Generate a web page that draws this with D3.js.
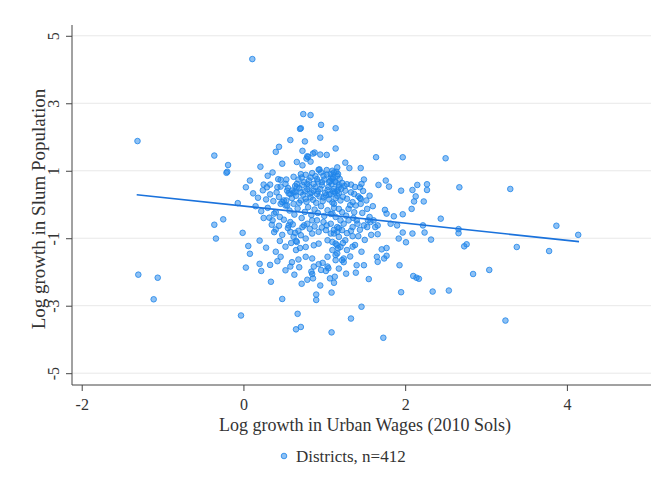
<!DOCTYPE html>
<html>
<head>
<meta charset="utf-8">
<script src="https://cdn.jsdelivr.net/npm/d3@7/dist/d3.min.js"></script>
<style>
  html, body { margin: 0; padding: 0; background: #fff; }
  svg { display: block; }
  text { font-family: "Liberation Serif", "DejaVu Serif", serif; fill: #333; }
</style>
</head>
<body>
<svg id="chart" width="651" height="485"></svg>
<script>
// log growth in urban wages (x) and slum population (y), one entry per district
const wageGrowth = [
  0.11,-1.31,-0.36,-0.19,-0.21,-0.20,0.21,0.40,0.44,0.58,0.70,0.48,0.36,0.30,0.08,0.03,0.25,0.33,0.46,0.53,
  0.66,0.42,0.29,0.74,0.83,0.96,1.14,0.71,0.76,0.95,1.14,0.73,0.88,0.95,1.03,0.79,0.78,0.83,0.73,1.26,
  1.31,1.45,1.64,1.97,2.50,0.94,1.03,1.49,1.46,1.44,1.28,1.33,1.67,1.76,1.80,2.15,2.27,2.27,2.09,1.95,
  2.67,3.30,3.87,4.14,2.66,2.73,2.76,3.38,3.78,2.84,3.04,2.44,3.24,2.54,2.34,1.95,2.10,2.14,2.17,1.93,
  1.66,1.55,1.39,1.40,1.49,1.24,1.46,1.33,1.09,1.73,0.67,0.65,0.71,0.48,0.90,0.90,1.09,-0.03,0.34,-1.11,
  -1.30,-1.06,0.03,0.20,0.22,0.60,0.69,0.93,0.98,1.04,1.05,1.02,0.96,0.84,0.85,0.86,0.79,1.07,1.13,1.12,
  -0.36,-0.25,-0.07,-0.34,-0.01,0.06,0.08,0.46,0.68,0.65,0.70,0.45,0.20,0.64,0.65,0.59,0.40,0.38,0.56,0.61,
  0.25,0.32,0.36,0.38,0.45,0.50,0.48,0.52,0.53,2.13,2.11,2.23,2.08,2.66,2.32,2.24,2.09,2.01,1.97,1.92,
  2.22,1.97,1.86,1.82,1.90,1.75,1.77,1.66,1.56,1.53,1.42,1.45,1.56,1.54,1.57,1.66,1.63,1.40,1.41,1.30,
  1.35,1.42,1.35,1.23,1.17,1.14,1.32,1.65,1.71,1.77,1.77,1.74,
  0.80,0.86,0.93,1.10,1.16,0.99,1.08,1.17,0.91,0.83,0.71,0.75,0.66,0.79,0.87,0.97,1.06,1.14,0.60,0.56,
  0.64,0.71,0.79,0.87,0.95,1.04,1.12,0.50,0.46,0.54,0.62,0.71,0.77,0.83,0.91,0.99,1.08,1.16,0.40,0.58,
  0.73,0.79,0.85,0.91,0.99,1.08,1.16,0.58,0.62,0.71,0.77,0.85,0.93,1.02,1.08,1.16,0.66,0.77,0.87,0.93,
  1.04,1.10,1.16,0.77,0.85,1.04,1.14,0.33,0.58,0.87,0.43,0.52,0.46,0.55,0.54,0.58,0.62,0.66,
  1.08,1.12,1.16,1.10,1.13,1.18,1.11,1.06,1.16,1.20,1.12,1.18,1.22,1.10,1.14,1.20,1.24,1.18,1.22,1.12,
  1.18,1.26,1.14,1.20,1.10,1.16,1.24,1.26,1.33,1.37,1.28,1.35,1.39,1.30,1.37,1.44,1.45,1.49,1.53,1.61,1.22,
  0.62,0.68,0.72,0.77,0.81,0.85,0.89,0.92,0.96,1.00,1.03,1.07,1.11,1.15,1.19,1.22,
  0.64,0.69,0.73,0.76,0.81,0.84,0.89,0.92,0.97,1.01,1.05,1.09,1.13,1.18,1.21,1.25,
  0.60,0.65,0.69,0.74,0.78,0.82,0.86,0.90,0.94,0.98,1.02,1.06,1.10,1.14,1.18,1.23,
  0.57,0.63,0.67,0.72,0.76,0.80,0.84,0.88,0.92,0.96,1.00,1.04,1.08,1.12,1.27,1.32,
  0.55,0.68,0.75,0.82,0.88,0.97,1.03,1.12,1.28,1.33,
  0.12,0.18,0.24,0.28,0.33,0.37,0.41,0.44,0.15,0.22,0.30,0.35,0.44,0.48,0.52,0.28,0.40,
  1.38,1.48,1.52,1.60,1.47,1.36,1.44,1.50,1.58,1.38,1.46,1.28,
  0.52,0.63,0.72,0.95,1.18,1.27,0.42,1.35
];
const slumGrowth = [
  4.31,1.88,1.45,1.17,0.94,0.97,1.12,1.56,1.71,1.91,2.24,1.21,0.95,0.85,0.71,0.51,0.59,0.59,0.73,0.74,
  1.26,0.51,0.51,2.68,2.65,2.36,2.26,2.26,1.87,1.98,1.66,1.59,1.54,1.48,1.47,1.43,1.36,1.27,1.16,1.24,
  1.08,1.08,1.40,1.40,1.37,1.04,1.02,0.74,0.61,0.51,0.60,0.59,0.58,0.71,0.53,0.58,0.60,0.43,0.43,0.41,
  0.51,0.46,-0.63,-0.90,-0.85,-1.24,-1.18,-1.26,-1.38,-2.06,-1.94,-0.42,-3.44,-2.55,-2.58,-2.60,-2.12,-2.17,-2.20,-1.80,
  -1.70,-2.21,-2.02,-1.80,-1.80,-1.71,-3.03,-3.38,-3.79,-3.95,-3.24,-3.70,-3.63,-2.80,-2.67,-2.83,-2.61,-3.29,-2.29,-2.81,
  -2.08,-2.17,-1.87,-1.76,-1.97,-1.71,-1.86,-1.77,-1.73,-1.84,-1.89,-1.97,-1.94,-1.99,-2.06,-2.19,-2.23,-2.19,-2.14,-2.32,
  -0.60,-0.44,0.04,-1.01,-0.84,-1.23,-1.46,-1.55,-1.63,-1.35,-1.29,-1.08,-1.07,-0.84,-1.08,-1.14,-0.74,-0.82,-0.62,-0.59,
  -0.40,-0.39,-0.47,-0.27,-0.37,-0.45,0.07,-0.03,0.12,0.24,0.09,0.09,-0.13,-0.73,-1.04,-0.83,-0.86,-1.12,-0.83,-1.01,
  -0.62,-0.29,-0.35,-0.57,-0.62,-0.16,-0.27,-0.88,0.26,-0.13,0.24,0.02,-0.37,-0.47,-0.52,-0.62,-0.67,-0.47,-0.57,-0.47,
  -0.67,-0.94,-0.94,-1.14,-1.30,-1.50,-1.54,-1.55,-1.33,-1.29,-1.52,-1.60,
  1.41,1.51,1.03,1.00,1.10,0.85,0.80,0.90,0.75,0.80,0.90,0.66,0.61,0.61,0.61,0.66,0.66,0.66,0.41,0.33,
  0.36,0.36,0.46,0.41,0.46,0.43,0.46,0.12,0.02,-0.03,0.02,0.12,0.17,0.21,0.31,0.21,0.31,0.41,-0.23,-0.52,
  -0.67,-0.57,-0.47,-0.47,-0.52,-0.57,-0.67,-0.81,-0.96,-0.91,-1.01,-0.86,-0.81,-0.76,-0.86,-0.81,-1.11,-1.26,-1.21,-1.16,
  -1.06,-1.11,-1.21,-1.55,-1.60,-1.55,-1.65,-1.79,-1.84,-1.84,0.75,0.61,0.53,0.49,0.41,0.31,0.36,0.51,
  0.90,0.95,0.85,0.76,0.68,0.51,0.39,0.29,0.26,0.12,0.02,-0.13,-0.23,-0.27,-0.37,-0.47,-0.57,-0.70,-0.76,-0.86,
  -0.96,-1.06,-1.16,-1.26,-1.35,-1.45,-1.60,0.41,0.36,0.31,0.17,0.07,-0.03,-0.13,-0.23,0.19,0.17,-0.62,-0.67,-0.47,-1.65,
  0.82,0.74,0.80,0.88,0.71,0.93,0.84,0.68,0.95,0.74,0.89,0.70,0.81,0.97,0.76,0.64,
  0.55,0.48,0.58,0.39,0.53,0.35,0.52,0.39,0.57,0.34,0.52,0.60,0.36,0.58,0.47,0.55,
  0.19,0.26,0.05,0.29,0.08,0.32,0.14,0.05,0.24,0.10,0.27,0.15,0.06,0.19,0.33,0.23,
  -0.18,-0.30,-0.12,-0.40,-0.22,-0.08,-0.31,-0.15,-0.25,-0.05,-0.34,-0.17,-0.28,-0.10,-0.33,-0.02,
  -0.70,-0.78,-0.62,-0.72,-0.65,-0.68,-0.62,-0.75,-0.85,-0.78,
  0.33,0.20,0.42,0.15,0.30,0.10,0.36,0.22,-0.05,-0.20,-0.10,-0.60,-0.63,-0.90,-1.25,-1.28,-1.40,
  0.52,0.40,0.12,-0.05,-0.25,-0.40,-0.75,-1.05,-0.90,-1.20,-1.40,-1.35,
  -1.95,-2.08,-2.35,-2.40,-1.90,-2.05,-1.68,-1.25
];
// fitted line, end points (x, y)
const fitX = [-1.32, 4.15];
const fitY = [0.29, -1.10];

const xTicks = [-2, 0, 2, 4];
const yTicks = [-5, -3, -1, 1, 3, 5];
const xTitle = "Log growth in Urban Wages (2010 Sols)";
const yTitle = "Log growth in Slum Population";
const legendLabel = "Districts, n=412";

const svg = d3.select("#chart");
const mLeft = 72, mRight = 651, mTop = 25, mBottom = 385;

let x = d3.scaleLinear().domain([-2.12, 5.04]).range([mLeft, mRight]);
let y = d3.scaleLinear().domain([-5.35, 5.32]).range([mBottom, mTop]);

let fmt = d => d < 0 ? "-" + Math.abs(d) : String(d);

// grid
svg.append("g").selectAll("line").data(yTicks).join("line")
    .attr("x1", mLeft).attr("x2", mRight)
    .attr("y1", d => y(d)).attr("y2", d => y(d))
    .attr("stroke", "#e8e8e8").attr("stroke-width", 1);

// x axis
let gx = svg.append("g").attr("transform", "translate(0," + mBottom + ")")
    .call(d3.axisBottom(x).tickValues(xTicks).tickSize(6).tickPadding(8).tickFormat(fmt));
gx.select(".domain").attr("stroke", "#444").attr("d", "M" + mLeft + ",0H" + mRight);
gx.selectAll(".tick line").attr("stroke", "#444");
gx.selectAll(".tick text").attr("font-size", 16).attr("fill", "#333")
    .style("font-family", "Liberation Serif, serif");

// y axis
let gy = svg.append("g").attr("transform", "translate(" + mLeft + ",0)")
    .call(d3.axisLeft(y).tickValues(yTicks).tickSize(6).tickFormat(fmt));
gy.select(".domain").attr("stroke", "#444").attr("d", "M0," + mTop + "V" + mBottom);
gy.selectAll(".tick line").attr("stroke", "#444");
gy.selectAll(".tick text")
    .attr("x", 0).attr("dy", null)
    .attr("transform", "translate(-19,0) rotate(-90)")
    .attr("text-anchor", "middle")
    .attr("dominant-baseline", "central")
    .attr("font-size", 16).attr("fill", "#333")
    .style("font-family", "Liberation Serif, serif");

// titles
svg.append("text")
    .attr("x", 365).attr("y", 431)
    .attr("text-anchor", "middle")
    .attr("font-size", 18)
    .text(xTitle);
svg.append("text")
    .attr("transform", "translate(45,209) rotate(-90)")
    .attr("text-anchor", "middle")
    .attr("font-size", 19)
    .text(yTitle);

// points
const pts = d3.zip(wageGrowth, slumGrowth);
svg.append("g").selectAll("circle").data(pts).join("circle")
    .attr("cx", d => x(d[0])).attr("cy", d => y(d[1]))
    .attr("r", 2.8)
    .attr("fill", "#1e84ea").attr("fill-opacity", 0.5)
    .attr("stroke", "#1e84ea").attr("stroke-opacity", 0.8).attr("stroke-width", 1);

// fit line
svg.append("line")
    .attr("x1", x(fitX[0])).attr("y1", y(fitY[0]))
    .attr("x2", x(fitX[1])).attr("y2", y(fitY[1]))
    .attr("stroke", "#1a72dc").attr("stroke-width", 1.6);

// legend
svg.append("circle")
    .attr("cx", 284).attr("cy", 456).attr("r", 2.8)
    .attr("fill", "#1e84ea").attr("fill-opacity", 0.5)
    .attr("stroke", "#1e84ea").attr("stroke-opacity", 0.8);
svg.append("text")
    .attr("x", 296).attr("y", 462)
    .attr("font-size", 17)
    .text(legendLabel);
</script>
</body>
</html>
